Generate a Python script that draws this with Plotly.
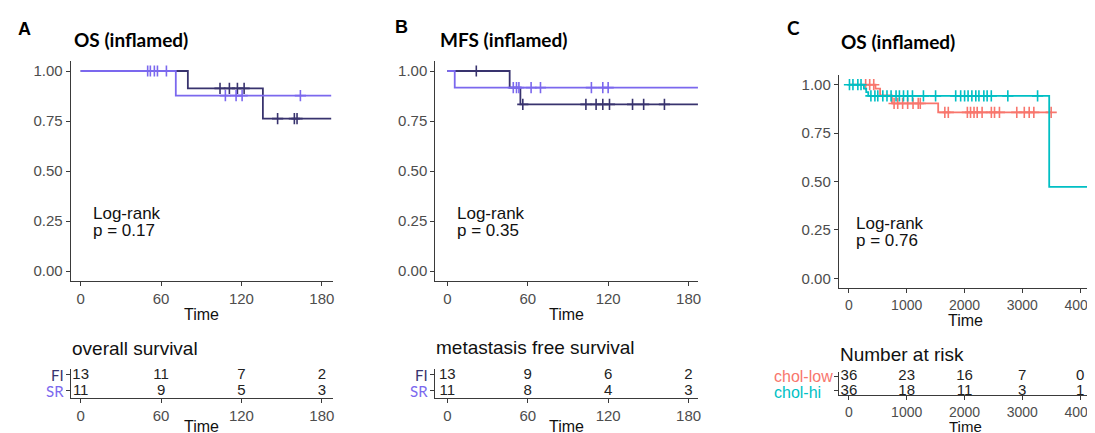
import bisect
import plotly.graph_objects as go

W, H = 1095, 433

# ---------------- data ----------------
# Panel A: OS (inflamed)
a_fi_times = [0, 80, 136, 187]
a_fi_surv = [1.0, 0.913, 0.762, 0.762]
a_fi_cens = [104, 111, 117, 122, 147, 159.5, 161.5]
a_sr_times = [0, 71, 187]
a_sr_surv = [1.0, 0.877, 0.877]
a_sr_cens = [50, 52, 55, 57.3, 64, 108, 116, 120.5, 164]

# Panel B: MFS (inflamed)
b_fi_times = [0, 46.5, 54.5, 187]
b_fi_surv = [1.0, 0.917, 0.833, 0.833]
b_fi_cens = [21.6, 56.3, 103.4, 111, 116, 121, 138.2, 146.5, 162]
b_sr_times = [0, 5.5, 187]
b_sr_surv = [1.0, 0.917, 0.917]
b_sr_cens = [49.2, 51.6, 53.4, 62.5, 69.5, 107.5, 116, 120]

# Panel C: OS (inflamed), cholesterol groups
c_lo_times = [0, 460, 540, 745, 1545, 3500]
c_lo_surv = [1.0, 0.98, 0.945, 0.903, 0.857, 0.857]
c_lo_cens = [290, 360, 430, 782, 845, 930, 1017, 1110, 1200, 1235,
             1660, 1720, 2050, 2105, 2165, 2220, 2305, 2465, 2520, 2605,
             2905, 3035, 3120, 3200, 3500]
c_hi_times = [0, 260, 300, 335, 3466, 4207]
c_hi_surv = [1.0, 0.98, 0.962, 0.942, 0.472, 0.472]
c_hi_cens = [10, 70, 155, 210, 381, 450, 500, 587, 659, 730, 816, 874, 945,
             1017, 1100, 1290, 1500, 1848, 1934, 2002, 2062, 2128, 2196,
             2250, 2335, 2392, 2464, 2750, 3265]

# risk tables
ab_breaks = [0, 60, 120, 180]
a_risk_fi = [13, 11, 7, 2]
a_risk_sr = [11, 9, 5, 3]
b_risk_fi = [13, 9, 6, 2]
b_risk_sr = [11, 8, 4, 3]
c_breaks = [0, 1000, 2000, 3000, 4000]
c_risk_lo = [36, 23, 16, 7, 0]
c_risk_hi = [36, 18, 11, 3, 1]

y_breaks = [0, 0.25, 0.5, 0.75, 1.0]

FI_COL = "#38336E"
SR_COL = "#7B68EE"
LO_COL = "#F8766D"
HI_COL = "#00BFC4"
AX_COL = "#3a3a3a"
TICK_COL = "#4D4D4D"
SANS = "Arial"
CAL = "Lato"


def surv_at(times, surv, t):
    i = bisect.bisect_right(times, t) - 1
    return surv[max(i, 0)]


def px(x):
    return x / W


def py(y):
    return 1 - y / H


fig = go.Figure()


def km(times, surv, cens, color, xa, ya):
    fig.add_trace(go.Scatter(x=times, y=surv, mode="lines", line=dict(color=color, width=1.8, shape="hv"),
                             xaxis=xa, yaxis=ya, showlegend=False, hoverinfo="skip"))
    fig.add_trace(go.Scatter(x=cens, y=[surv_at(times, surv, t) for t in cens], mode="markers",
                             marker=dict(symbol="cross-thin", size=8, line=dict(color=color, width=1.6)),
                             xaxis=xa, yaxis=ya, showlegend=False, hoverinfo="skip"))


def risk_row(breaks, vals, row, xa, ya):
    fig.add_trace(go.Scatter(x=breaks, y=[row] * len(breaks), mode="text", text=[str(v) for v in vals],
                             textfont=dict(family=SANS, size=15, color="#222"), textposition="middle center",
                             xaxis=xa, yaxis=ya, showlegend=False, hoverinfo="skip", cliponaxis=False))


km(a_fi_times, a_fi_surv, a_fi_cens, FI_COL, "x", "y")
km(a_sr_times, a_sr_surv, a_sr_cens, SR_COL, "x", "y")
km(b_fi_times, b_fi_surv, b_fi_cens, FI_COL, "x3", "y3")
km(b_sr_times, b_sr_surv, b_sr_cens, SR_COL, "x3", "y3")
km(c_lo_times, c_lo_surv, c_lo_cens, LO_COL, "x5", "y5")
km(c_hi_times, c_hi_surv, c_hi_cens, HI_COL, "x5", "y5")

risk_row(ab_breaks, a_risk_fi, 1, "x2", "y2")
risk_row(ab_breaks, a_risk_sr, 0, "x2", "y2")
risk_row(ab_breaks, b_risk_fi, 1, "x4", "y4")
risk_row(ab_breaks, b_risk_sr, 0, "x4", "y4")
risk_row(c_breaks, c_risk_lo, 1, "x6", "y6")
risk_row(c_breaks, c_risk_hi, 0, "x6", "y6")

common = dict(showgrid=False, zeroline=False, showline=True, linecolor=AX_COL, linewidth=1.3,
              ticks="outside", ticklen=4, tickwidth=1.2, tickcolor=AX_COL,
              tickfont=dict(family=SANS, size=15, color=TICK_COL), fixedrange=True)

layout_axes = {}
panels = [
    # (x-left, x-right, main-top, main-bottom, tab-top, tab-bottom, xrange, breaks, tabrange, xfont)
    (63, 326, 53, 273, 361, 390, [-7.4, 188.2], ab_breaks, [-0.44, 1.375], 15),
    (429, 693, 53, 273, 361, 390, [-8.9, 187.4], ab_breaks, [-0.44, 1.375], 15),
    (834, 1088, 67, 280, 364, 387, [-172, 4207], c_breaks, [-0.27, 1.27], 14),
]
for k, (xl, xr, mt, mb, tt, tb, xr_, br, trng, xf) in enumerate(panels):
    n_main = 2 * k + 1
    n_tab = 2 * k + 2
    sx = "" if n_main == 1 else str(n_main)
    st = str(n_tab)
    xfont = dict(family=SANS, size=xf, color=TICK_COL)
    layout_axes["xaxis" + sx] = dict(common, domain=[px(xl), px(xr)], range=xr_, tickvals=br,
                                     anchor="y" + sx, tickfont=xfont)
    layout_axes["yaxis" + sx] = dict(common, domain=[py(mb), py(mt)], range=[-0.05, 1.05], tickvals=y_breaks,
                                     ticktext=["%.2f" % v for v in y_breaks], anchor="x" + sx)
    layout_axes["xaxis" + st] = dict(common, domain=[px(xl), px(xr)], range=xr_, tickvals=br, anchor="y" + st,
                                     tickfont=xfont)
    layout_axes["yaxis" + st] = dict(common, domain=[py(tb), py(tt)], range=trng, tickvals=[0, 1],
                                     showticklabels=False, anchor="x" + st)

annotations = []


def txt(x, y, s, size, color="#111", family=SANS, xanchor="left", bold=False):
    if bold:
        s = "<b>" + s + "</b>"
    annotations.append(dict(x=px(x), y=py(y), xref="paper", yref="paper", text=s, showarrow=False,
                            xanchor=xanchor, yanchor="middle", font=dict(family=family, size=size, color=color)))


# panel letters and titles
txt(17, 21, "A", 18, "#000", SANS, "center", True)
txt(395, 19, "B", 18, "#000", SANS, "center", True)
txt(788, 19, "C", 19, "#000", CAL, "center", True)
txt(64, 32, "OS (inflamed)", 19, "#000", CAL, "left", True)
txt(432, 32, "MFS (inflamed)", 19, "#000", CAL, "left", True)
txt(834, 33, "OS (inflamed)", 19, "#000", CAL, "left", True)

# log-rank
for (x0, y0, p) in [(83, 205, "0.17"), (449, 205, "0.35"), (849, 215, "0.76")]:
    txt(x0, y0, "Log-rank", 17)
    txt(x0, y0 + 18, "p = " + p, 17)

# axis titles
for (xc, ym, yt, fs) in [(194.5, 306, 418, 16), (561, 306, 418, 16), (961, 312, 418, 15)]:
    txt(xc, ym, "Time", 16, "#111", SANS, "center")
    txt(xc, yt, "Time", fs, "#111", SANS, "center")

# risk table titles
txt(62, 340, "overall survival", 19)
txt(428, 339, "metastasis free survival", 19)
txt(833, 346, "Number at risk", 19)

# risk table group labels
txt(58, 367, "FI", 15, FI_COL, CAL, "right")
txt(58, 383, "SR", 15, SR_COL, CAL, "right")
txt(424, 367, "FI", 15, FI_COL, CAL, "right")
txt(424, 383, "SR", 15, SR_COL, CAL, "right")
txt(767, 368, "chol-low", 16, LO_COL, SANS, "left")
txt(767, 384, "chol-hi", 16, HI_COL, SANS, "left")

fig.update_layout(width=W, height=H, margin=dict(l=0, r=0, t=0, b=0), paper_bgcolor="white",
                  plot_bgcolor="white", annotations=annotations, **layout_axes)

fig.write_html("out.html")
